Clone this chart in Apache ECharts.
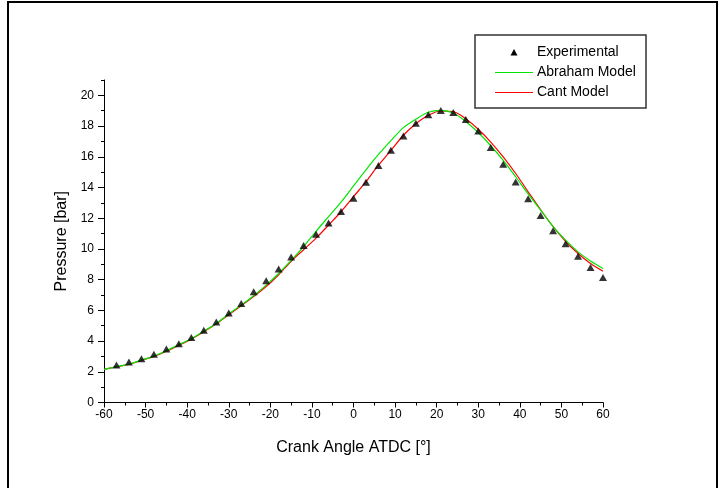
<!DOCTYPE html>
<html>
<head>
<meta charset="utf-8">
<script src="https://cdn.jsdelivr.net/npm/echarts@6/dist/echarts.min.js"></script>
<style>
  html, body { margin: 0; padding: 0; background: #fff; }
  #chart { width: 725px; height: 488px; }
</style>
</head>
<body>
<div id="chart"></div>
<script>
// Measured cylinder pressure, every 3 degrees of crank angle
const anglesExp = [-57, -54, -51, -48, -45, -42, -39, -36, -33, -30, -27, -24, -21, -18, -15, -12, -9, -6, -3, 0,
                   3, 6, 9, 12, 15, 18, 21, 24, 27, 30, 33, 36, 39, 42, 45, 48, 51, 54, 57, 60];
const pressureExp = [2.44, 2.63, 2.85, 3.15, 3.48, 3.83, 4.24, 4.71, 5.24, 5.82, 6.45, 7.21, 7.92, 8.70, 9.48, 10.22, 10.96, 11.69, 12.43, 13.30,
                     14.34, 15.43, 16.42, 17.36, 18.18, 18.74, 19.02, 18.89, 18.42, 17.68, 16.60, 15.51, 14.36, 13.26, 12.17, 11.18, 10.33, 9.53, 8.79, 8.14];

// Model predictions
const anglesModel = [-60, -57, -54, -51, -48, -45, -42, -39, -36, -33, -30, -27, -24, -21, -18, -15, -12, -9, -6, -3, 0,
                     3, 6, 9, 12, 15, 18, 21, 24, 27, 30, 33, 36, 39, 42, 45, 48, 51, 54, 57, 60];
const abrahamModel = [2.16, 2.33, 2.50, 2.76, 3.02, 3.37, 3.76, 4.15, 4.65, 5.15, 5.76, 6.34, 6.95, 7.64, 8.40, 9.25, 10.15, 11.15, 12.10, 13.05, 14.10,
                      15.15, 16.15, 17.05, 17.90, 18.45, 18.90, 19.02, 18.85, 18.30, 17.58, 16.72, 15.77, 14.70, 13.58, 12.52, 11.45, 10.57, 9.81, 9.22, 8.73];
const cantModel = [2.16, 2.32, 2.49, 2.74, 3.00, 3.34, 3.72, 4.12, 4.60, 5.12, 5.72, 6.30, 6.90, 7.55, 8.32, 9.20, 9.95, 10.70, 11.55, 12.42, 13.40,
                   14.38, 15.45, 16.42, 17.40, 18.15, 18.70, 18.98, 18.94, 18.48, 17.79, 16.96, 15.99, 14.91, 13.72, 12.55, 11.45, 10.50, 9.70, 9.05, 8.55];

// Axis tick labels
const xTickValues = [-60, -50, -40, -30, -20, -10, 0, 10, 20, 30, 40, 50, 60];
const yTickValues = [0, 2, 4, 6, 8, 10, 12, 14, 16, 18, 20];

// Legend entries
const legendNames = ['Experimental', 'Abraham Model', 'Cant Model'];

const FONT = 'Arial, "Liberation Sans", sans-serif';
const GREEN = '#00e600';
const RED = '#ff0000';
const zip = (xs, ys) => xs.map((x, i) => [x, ys[i]]);

const chart = echarts.init(document.getElementById('chart'), null, { renderer: 'canvas' });

const gridBox = { left: 104, right: 122, top: 80, bottom: 85.5 };

// Legend box drawn as graphic elements
const legendX = 495, legendTextX = 537, legendRows = [52.5, 72.5, 92.5];
const legendGraphics = [
  {
    type: 'rect', silent: true,
    shape: { x: 475, y: 35, width: 171, height: 73 },
    style: { fill: '#fff', stroke: '#333', lineWidth: 1.5 }
  },
  {
    type: 'polygon', silent: true,
    shape: { points: [[legendX + 15.5, legendRows[0] + 3], [legendX + 22.5, legendRows[0] + 3], [legendX + 19, legendRows[0] - 3.5]] },
    style: { fill: '#000' }
  },
  {
    type: 'line', silent: true,
    shape: { x1: legendX, y1: legendRows[1], x2: legendX + 38, y2: legendRows[1] },
    style: { stroke: GREEN, lineWidth: 1.2 }
  },
  {
    type: 'line', silent: true,
    shape: { x1: legendX, y1: legendRows[2], x2: legendX + 38, y2: legendRows[2] },
    style: { stroke: RED, lineWidth: 1.2 }
  }
].concat(legendNames.map((name, i) => ({
  type: 'text', silent: true,
  x: legendTextX, y: legendRows[i],
  style: { text: name, fill: '#000', font: '14px ' + FONT, verticalAlign: 'middle', align: 'left' }
})));

chart.setOption({
  animation: false,
  backgroundColor: '#fff',
  textStyle: { fontFamily: FONT },
  grid: [Object.assign({}, gridBox), Object.assign({}, gridBox)],
  xAxis: [{
    gridIndex: 0,
    type: 'value',
    min: -60, max: 60, interval: 10,
    axisLine: { onZero: false, lineStyle: { color: '#000', width: 1 } },
    axisTick: { length: 5, lineStyle: { color: '#000', width: 1 } },
    minorTick: { show: true, splitNumber: 2, length: 3, lineStyle: { color: '#000', width: 1 } },
    splitLine: { show: false },
    axisLabel: { color: '#000', fontSize: 12, fontFamily: FONT, margin: 6, customValues: xTickValues },
    name: 'Crank Angle ATDC [°]',
    nameLocation: 'middle',
    nameGap: 37,
    nameTextStyle: { color: '#000', fontSize: 16, fontFamily: FONT }
  }, {
    gridIndex: 1,
    type: 'value',
    min: -60, max: 60,
    show: false
  }],
  yAxis: [{
    gridIndex: 0,
    type: 'value',
    min: 0, max: 21, interval: 2,
    axisLine: { show: true, onZero: false, lineStyle: { color: '#000', width: 1 } },
    axisTick: { show: true, length: 6, lineStyle: { color: '#000', width: 1 }, customValues: yTickValues },
    splitLine: { show: false },
    axisLabel: { color: '#000', fontSize: 12, fontFamily: FONT, margin: 10, customValues: yTickValues },
    name: 'Pressure [bar]',
    nameLocation: 'middle',
    nameRotate: 90,
    nameGap: 30,
    nameTextStyle: { color: '#000', fontSize: 16, fontFamily: FONT }
  }, {
    // unit ticks between the labelled ones
    gridIndex: 1,
    type: 'value',
    min: 0, max: 21, interval: 1,
    axisLine: { show: false, onZero: false },
    axisTick: { show: true, length: 3, lineStyle: { color: '#000', width: 1 } },
    axisLabel: { show: false },
    splitLine: { show: false }
  }],
  graphic: legendGraphics.concat([{
    type: 'rect',
    silent: true,
    shape: { x: 8, y: 2, width: 709, height: 530 },
    style: { fill: 'none', stroke: '#000', lineWidth: 2 }
  }]),
  series: [{
    name: 'Cant Model',
    type: 'line',
    xAxisIndex: 0, yAxisIndex: 0,
    data: zip(anglesModel, cantModel),
    symbol: 'none',
    smooth: 0.3,
    lineStyle: { color: RED, width: 1.2 },
    itemStyle: { color: RED },
    z: 2
  }, {
    name: 'Abraham Model',
    type: 'line',
    xAxisIndex: 0, yAxisIndex: 0,
    data: zip(anglesModel, abrahamModel),
    symbol: 'none',
    smooth: 0.3,
    lineStyle: { color: GREEN, width: 1.2 },
    itemStyle: { color: GREEN },
    z: 2
  }, {
    name: 'Experimental',
    type: 'scatter',
    xAxisIndex: 0, yAxisIndex: 0,
    data: zip(anglesExp, pressureExp),
    symbol: 'triangle',
    symbolSize: [8, 7],
    itemStyle: { color: '#000' },
    z: 3
  }]
});
</script>
</body>
</html>
